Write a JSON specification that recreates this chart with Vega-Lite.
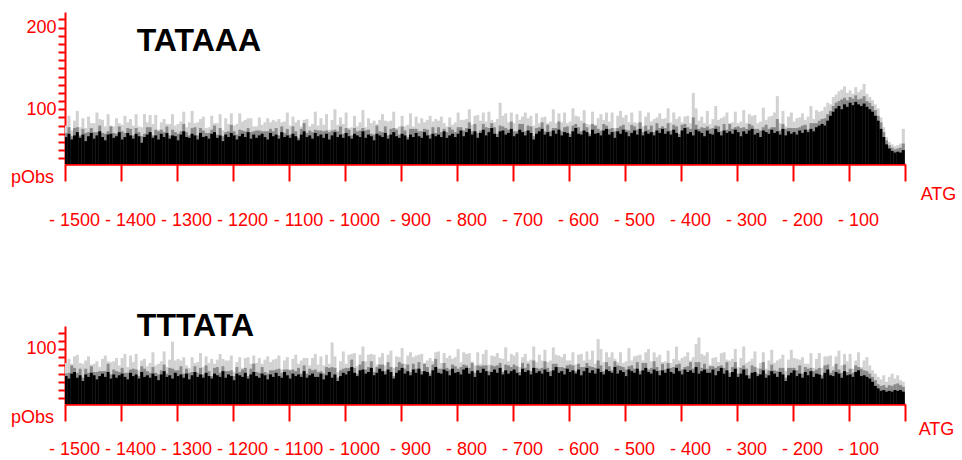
{
"$schema": "https://vega.github.io/schema/vega-lite/v6.json",
"background": "white",
"padding": {"left": 10, "top": 10, "right": 0, "bottom": 0},
"config": {"view": {"stroke": null}, "font": "Liberation Sans"},
"spacing": 81,
"datasets": {
"top": [
{"x":-1498,"k":66,"m":71,"l":80},{"x":-1493,"k":70,"m":78,"l":92},{"x":-1488,"k":63,"m":67,"l":74},{"x":-1483,"k":68,"m":77,"l":86},{"x":-1478,"k":72,"m":78,"l":98},{"x":-1473,"k":65,"m":68,"l":78},{"x":-1468,"k":69,"m":76,"l":89},{"x":-1463,"k":61,"m":71,"l":77},{"x":-1458,"k":67,"m":72,"l":91},{"x":-1453,"k":71,"m":77,"l":83},
{"x":-1448,"k":64,"m":72,"l":83},{"x":-1443,"k":68,"m":72,"l":96},{"x":-1438,"k":73,"m":80,"l":88},{"x":-1433,"k":66,"m":71,"l":87},{"x":-1428,"k":62,"m":70,"l":79},{"x":-1423,"k":69,"m":73,"l":94},{"x":-1418,"k":70,"m":79,"l":80},{"x":-1413,"k":65,"m":71,"l":79},{"x":-1408,"k":67,"m":70,"l":89},{"x":-1403,"k":72,"m":79,"l":83},
{"x":-1398,"k":63,"m":73,"l":81},{"x":-1393,"k":66,"m":71,"l":92},{"x":-1388,"k":71,"m":77,"l":84},{"x":-1383,"k":68,"m":76,"l":88},{"x":-1378,"k":64,"m":68,"l":80},{"x":-1373,"k":70,"m":77,"l":94},{"x":-1368,"k":67,"m":72,"l":79},{"x":-1363,"k":59,"m":67,"l":78},{"x":-1358,"k":66,"m":70,"l":94},{"x":-1353,"k":69,"m":78,"l":84},
{"x":-1348,"k":72,"m":78,"l":93},{"x":-1343,"k":65,"m":68,"l":82},{"x":-1338,"k":68,"m":75,"l":93},{"x":-1333,"k":63,"m":73,"l":75},{"x":-1328,"k":70,"m":75,"l":84},{"x":-1323,"k":66,"m":72,"l":88},{"x":-1318,"k":71,"m":79,"l":82},{"x":-1313,"k":64,"m":68,"l":82},{"x":-1308,"k":68,"m":75,"l":94},{"x":-1303,"k":67,"m":72,"l":80},
{"x":-1298,"k":62,"m":70,"l":82},{"x":-1293,"k":69,"m":73,"l":85},{"x":-1288,"k":73,"m":82,"l":97},{"x":-1283,"k":66,"m":72,"l":78},{"x":-1278,"k":65,"m":68,"l":84},{"x":-1273,"k":70,"m":77,"l":98},{"x":-1268,"k":68,"m":78,"l":83},{"x":-1263,"k":63,"m":68,"l":84},{"x":-1258,"k":71,"m":77,"l":88},{"x":-1253,"k":66,"m":74,"l":91},
{"x":-1248,"k":67,"m":71,"l":77},{"x":-1243,"k":64,"m":71,"l":78},{"x":-1238,"k":70,"m":75,"l":92},{"x":-1233,"k":72,"m":80,"l":83},{"x":-1228,"k":65,"m":69,"l":83},{"x":-1223,"k":68,"m":77,"l":94},{"x":-1218,"k":61,"m":67,"l":74},{"x":-1213,"k":69,"m":72,"l":89},{"x":-1208,"k":66,"m":73,"l":82},{"x":-1203,"k":71,"m":81,"l":95},
{"x":-1198,"k":68,"m":73,"l":80},{"x":-1193,"k":63,"m":69,"l":82},{"x":-1188,"k":67,"m":75,"l":95},{"x":-1183,"k":70,"m":74,"l":85},{"x":-1178,"k":66,"m":73,"l":87},{"x":-1173,"k":72,"m":77,"l":89},{"x":-1168,"k":64,"m":72,"l":89},{"x":-1163,"k":69,"m":73,"l":79},{"x":-1158,"k":65,"m":74,"l":79},{"x":-1153,"k":68,"m":74,"l":90},
{"x":-1148,"k":70,"m":73,"l":81},{"x":-1143,"k":66,"m":73,"l":84},{"x":-1138,"k":63,"m":73,"l":89},{"x":-1133,"k":71,"m":76,"l":84},{"x":-1128,"k":67,"m":73,"l":87},{"x":-1123,"k":69,"m":77,"l":85},{"x":-1118,"k":64,"m":68,"l":88},{"x":-1113,"k":72,"m":79,"l":84},{"x":-1108,"k":66,"m":71,"l":85},{"x":-1103,"k":68,"m":76,"l":96},
{"x":-1098,"k":65,"m":69,"l":80},{"x":-1093,"k":70,"m":79,"l":91},{"x":-1088,"k":67,"m":73,"l":84},{"x":-1083,"k":62,"m":65,"l":87},{"x":-1078,"k":69,"m":76,"l":79},{"x":-1073,"k":73,"m":83,"l":87},{"x":-1068,"k":66,"m":71,"l":88},{"x":-1063,"k":68,"m":74,"l":79},{"x":-1058,"k":64,"m":72,"l":82},{"x":-1053,"k":71,"m":75,"l":97},
{"x":-1048,"k":67,"m":74,"l":80},{"x":-1043,"k":69,"m":74,"l":89},{"x":-1038,"k":65,"m":73,"l":81},{"x":-1033,"k":70,"m":74,"l":94},{"x":-1028,"k":63,"m":72,"l":75},{"x":-1023,"k":68,"m":74,"l":87},{"x":-1018,"k":72,"m":75,"l":100},{"x":-1013,"k":66,"m":73,"l":81},{"x":-1008,"k":69,"m":79,"l":90},{"x":-1003,"k":65,"m":70,"l":82},
{"x":-998,"k":71,"m":77,"l":96},{"x":-993,"k":67,"m":75,"l":77},{"x":-988,"k":64,"m":68,"l":78},{"x":-983,"k":70,"m":77,"l":92},{"x":-978,"k":68,"m":73,"l":79},{"x":-973,"k":66,"m":74,"l":84},{"x":-968,"k":73,"m":77,"l":99},{"x":-963,"k":65,"m":74,"l":78},{"x":-958,"k":69,"m":75,"l":89},{"x":-953,"k":67,"m":70,"l":83},
{"x":-948,"k":62,"m":69,"l":86},{"x":-943,"k":70,"m":80,"l":82},{"x":-938,"k":68,"m":73,"l":87},{"x":-933,"k":66,"m":72,"l":94},{"x":-928,"k":71,"m":79,"l":86},{"x":-923,"k":64,"m":68,"l":85},{"x":-918,"k":69,"m":76,"l":86},{"x":-913,"k":72,"m":77,"l":97},{"x":-908,"k":67,"m":75,"l":77},{"x":-903,"k":65,"m":69,"l":79},
{"x":-898,"k":70,"m":79,"l":92},{"x":-893,"k":68,"m":74,"l":79},{"x":-888,"k":63,"m":66,"l":81},{"x":-883,"k":69,"m":76,"l":95},{"x":-878,"k":66,"m":76,"l":79},{"x":-873,"k":71,"m":76,"l":91},{"x":-868,"k":67,"m":73,"l":83},{"x":-863,"k":65,"m":73,"l":89},{"x":-858,"k":72,"m":76,"l":84},{"x":-853,"k":68,"m":75,"l":87},
{"x":-848,"k":64,"m":69,"l":92},{"x":-843,"k":70,"m":78,"l":85},{"x":-838,"k":67,"m":71,"l":88},{"x":-833,"k":69,"m":78,"l":86},{"x":-828,"k":66,"m":72,"l":91},{"x":-823,"k":73,"m":76,"l":83},{"x":-818,"k":65,"m":72,"l":79},{"x":-813,"k":68,"m":78,"l":90},{"x":-808,"k":70,"m":75,"l":81},{"x":-803,"k":66,"m":72,"l":84},
{"x":-798,"k":70,"m":78,"l":96},{"x":-793,"k":74,"m":78,"l":87},{"x":-788,"k":67,"m":74,"l":87},{"x":-783,"k":72,"m":77,"l":88},{"x":-778,"k":76,"m":84,"l":100},{"x":-773,"k":69,"m":73,"l":81},{"x":-768,"k":73,"m":82,"l":92},{"x":-763,"k":65,"m":71,"l":93},{"x":-758,"k":71,"m":74,"l":86},{"x":-753,"k":75,"m":82,"l":96},
{"x":-748,"k":68,"m":78,"l":85},{"x":-743,"k":72,"m":77,"l":97},{"x":-738,"k":77,"m":83,"l":87},{"x":-733,"k":70,"m":78,"l":84},{"x":-728,"k":66,"m":70,"l":88},{"x":-723,"k":73,"m":80,"l":108},{"x":-718,"k":74,"m":79,"l":92},{"x":-713,"k":69,"m":77,"l":95},{"x":-708,"k":71,"m":75,"l":84},{"x":-703,"k":76,"m":85,"l":96},
{"x":-698,"k":67,"m":73,"l":83},{"x":-693,"k":70,"m":73,"l":94},{"x":-688,"k":75,"m":82,"l":87},{"x":-683,"k":72,"m":82,"l":91},{"x":-678,"k":68,"m":73,"l":96},{"x":-673,"k":74,"m":80,"l":89},{"x":-668,"k":71,"m":79,"l":92},{"x":-663,"k":63,"m":67,"l":80},{"x":-658,"k":70,"m":77,"l":95},{"x":-653,"k":73,"m":78,"l":83},
{"x":-648,"k":76,"m":84,"l":90},{"x":-643,"k":69,"m":73,"l":91},{"x":-638,"k":72,"m":81,"l":83},{"x":-633,"k":67,"m":73,"l":85},{"x":-628,"k":74,"m":77,"l":100},{"x":-623,"k":70,"m":77,"l":83},{"x":-618,"k":75,"m":85,"l":95},{"x":-613,"k":68,"m":73,"l":84},{"x":-608,"k":72,"m":78,"l":96},{"x":-603,"k":71,"m":79,"l":83},
{"x":-598,"k":66,"m":70,"l":85},{"x":-593,"k":73,"m":80,"l":101},{"x":-588,"k":77,"m":82,"l":92},{"x":-583,"k":70,"m":78,"l":91},{"x":-578,"k":69,"m":73,"l":86},{"x":-573,"k":74,"m":83,"l":99},{"x":-568,"k":72,"m":78,"l":82},{"x":-563,"k":67,"m":70,"l":81},{"x":-558,"k":75,"m":82,"l":97},{"x":-553,"k":70,"m":80,"l":81},
{"x":-548,"k":71,"m":76,"l":89},{"x":-543,"k":68,"m":74,"l":94},{"x":-538,"k":74,"m":82,"l":87},{"x":-533,"k":76,"m":80,"l":96},{"x":-528,"k":69,"m":76,"l":85},{"x":-523,"k":72,"m":77,"l":96},{"x":-518,"k":65,"m":73,"l":77},{"x":-513,"k":73,"m":77,"l":92},{"x":-508,"k":70,"m":79,"l":98},{"x":-503,"k":75,"m":81,"l":90},
{"x":-498,"k":72,"m":75,"l":93},{"x":-493,"k":67,"m":74,"l":84},{"x":-488,"k":71,"m":81,"l":96},{"x":-483,"k":74,"m":79,"l":84},{"x":-478,"k":69,"m":75,"l":83},{"x":-473,"k":76,"m":84,"l":98},{"x":-468,"k":68,"m":72,"l":79},{"x":-463,"k":73,"m":80,"l":91},{"x":-458,"k":70,"m":75,"l":96},{"x":-453,"k":72,"m":80,"l":85},
{"x":-448,"k":68,"m":72,"l":88},{"x":-443,"k":74,"m":83,"l":90},{"x":-438,"k":71,"m":77,"l":95},{"x":-433,"k":76,"m":79,"l":88},{"x":-428,"k":70,"m":77,"l":89},{"x":-423,"k":73,"m":83,"l":101},{"x":-418,"k":69,"m":74,"l":84},{"x":-413,"k":75,"m":81,"l":96},{"x":-408,"k":71,"m":79,"l":88},{"x":-403,"k":66,"m":70,"l":91},
{"x":-398,"k":74,"m":81,"l":84},{"x":-393,"k":77,"m":82,"l":91},{"x":-388,"k":70,"m":78,"l":92},{"x":-383,"k":72,"m":76,"l":83},{"x":-378,"k":68,"m":90,"l":120},{"x":-373,"k":75,"m":81,"l":101},{"x":-368,"k":73,"m":76,"l":86},{"x":-363,"k":71,"m":78,"l":91},{"x":-358,"k":67,"m":77,"l":83},{"x":-353,"k":74,"m":79,"l":98},
{"x":-348,"k":70,"m":76,"l":82},{"x":-343,"k":69,"m":77,"l":88},{"x":-338,"k":76,"m":80,"l":104},{"x":-333,"k":72,"m":79,"l":87},{"x":-328,"k":68,"m":73,"l":89},{"x":-323,"k":74,"m":82,"l":91},{"x":-318,"k":71,"m":75,"l":96},{"x":-313,"k":73,"m":82,"l":83},{"x":-308,"k":70,"m":76,"l":84},{"x":-303,"k":75,"m":78,"l":97},
{"x":-298,"k":72,"m":79,"l":83},{"x":-293,"k":67,"m":77,"l":85},{"x":-288,"k":73,"m":78,"l":99},{"x":-283,"k":70,"m":76,"l":83},{"x":-278,"k":74,"m":82,"l":94},{"x":-273,"k":76,"m":80,"l":92},{"x":-268,"k":69,"m":76,"l":93},{"x":-263,"k":71,"m":76,"l":83},{"x":-258,"k":66,"m":74,"l":85},{"x":-253,"k":74,"m":78,"l":102},
{"x":-248,"k":72,"m":81,"l":87},{"x":-243,"k":70,"m":76,"l":91},{"x":-238,"k":75,"m":78,"l":92},{"x":-233,"k":71,"m":78,"l":96},{"x":-228,"k":73,"m":88,"l":116},{"x":-223,"k":69,"m":74,"l":83},{"x":-218,"k":76,"m":82,"l":98},{"x":-213,"k":68,"m":76,"l":79},{"x":-208,"k":73,"m":77,"l":91},{"x":-203,"k":70,"m":77,"l":96},
{"x":-198,"k":72,"m":77,"l":85},{"x":-193,"k":69,"m":77,"l":89},{"x":-188,"k":74,"m":78,"l":90},{"x":-183,"k":71,"m":80,"l":95},{"x":-178,"k":75,"m":81,"l":87},{"x":-173,"k":72,"m":75,"l":91},{"x":-168,"k":76,"m":83,"l":104},{"x":-163,"k":73,"m":83,"l":88},{"x":-158,"k":78,"m":83,"l":99},{"x":-153,"k":80,"m":86,"l":97},
{"x":-148,"k":82,"m":88,"l":98},{"x":-143,"k":80,"m":89,"l":103},{"x":-138,"k":86,"m":94,"l":108},{"x":-133,"k":92,"m":98,"l":106},{"x":-128,"k":97,"m":104,"l":115},{"x":-123,"k":101,"m":108,"l":118},{"x":-118,"k":104,"m":110,"l":122},{"x":-113,"k":100,"m":112,"l":124},{"x":-108,"k":106,"m":114,"l":128},{"x":-103,"k":103,"m":111,"l":120},
{"x":-98,"k":108,"m":115,"l":123},{"x":-93,"k":105,"m":113,"l":119},{"x":-88,"k":109,"m":117,"l":127},{"x":-83,"k":106,"m":112,"l":121},{"x":-78,"k":104,"m":113,"l":124},{"x":-73,"k":107,"m":116,"l":131},{"x":-68,"k":103,"m":110,"l":119},{"x":-63,"k":100,"m":108,"l":115},{"x":-58,"k":97,"m":104,"l":111},{"x":-53,"k":92,"m":99,"l":106},
{"x":-48,"k":86,"m":92,"l":101},{"x":-43,"k":76,"m":84,"l":90},{"x":-38,"k":66,"m":72,"l":78},{"x":-33,"k":57,"m":62,"l":66},{"x":-28,"k":52,"m":56,"l":60},{"x":-23,"k":49,"m":53,"l":57},{"x":-18,"k":47,"m":51,"l":55},{"x":-13,"k":48,"m":52,"l":56},{"x":-8,"k":47,"m":53,"l":58},{"x":-3,"k":50,"m":58,"l":76}
],
"bot": [
{"x":-1498,"k":67,"m":70,"l":83},{"x":-1493,"k":64,"m":71,"l":88},{"x":-1488,"k":70,"m":80,"l":82},{"x":-1483,"k":72,"m":77,"l":91},{"x":-1478,"k":65,"m":71,"l":93},{"x":-1473,"k":68,"m":76,"l":83},{"x":-1468,"k":61,"m":65,"l":82},{"x":-1463,"k":69,"m":76,"l":86},{"x":-1458,"k":66,"m":71,"l":91},{"x":-1453,"k":71,"m":79,"l":81},
{"x":-1448,"k":68,"m":72,"l":82},{"x":-1443,"k":63,"m":72,"l":85},{"x":-1438,"k":67,"m":73,"l":78},{"x":-1433,"k":70,"m":73,"l":88},{"x":-1428,"k":66,"m":73,"l":92},{"x":-1423,"k":72,"m":82,"l":85},{"x":-1418,"k":64,"m":69,"l":84},{"x":-1413,"k":69,"m":75,"l":85},{"x":-1408,"k":65,"m":73,"l":89},{"x":-1403,"k":68,"m":72,"l":80},
{"x":-1398,"k":70,"m":77,"l":89},{"x":-1393,"k":66,"m":71,"l":94},{"x":-1388,"k":63,"m":71,"l":78},{"x":-1383,"k":71,"m":75,"l":92},{"x":-1378,"k":67,"m":76,"l":84},{"x":-1373,"k":69,"m":75,"l":94},{"x":-1368,"k":64,"m":67,"l":74},{"x":-1363,"k":72,"m":79,"l":86},{"x":-1358,"k":66,"m":76,"l":88},{"x":-1353,"k":68,"m":73,"l":79},
{"x":-1348,"k":65,"m":71,"l":83},{"x":-1343,"k":70,"m":78,"l":96},{"x":-1338,"k":67,"m":71,"l":80},{"x":-1333,"k":62,"m":69,"l":82},{"x":-1328,"k":69,"m":74,"l":85},{"x":-1323,"k":73,"m":81,"l":97},{"x":-1318,"k":66,"m":70,"l":78},{"x":-1313,"k":68,"m":77,"l":87},{"x":-1308,"k":64,"m":76,"l":109},{"x":-1303,"k":71,"m":74,"l":86},
{"x":-1298,"k":67,"m":74,"l":88},{"x":-1293,"k":69,"m":79,"l":86},{"x":-1288,"k":65,"m":70,"l":90},{"x":-1283,"k":70,"m":76,"l":80},{"x":-1278,"k":63,"m":71,"l":77},{"x":-1273,"k":68,"m":72,"l":90},{"x":-1268,"k":72,"m":79,"l":83},{"x":-1263,"k":66,"m":71,"l":84},{"x":-1258,"k":69,"m":77,"l":95},{"x":-1253,"k":65,"m":69,"l":78},
{"x":-1248,"k":71,"m":80,"l":91},{"x":-1243,"k":67,"m":73,"l":83},{"x":-1238,"k":64,"m":67,"l":88},{"x":-1233,"k":70,"m":77,"l":82},{"x":-1228,"k":68,"m":78,"l":87},{"x":-1223,"k":66,"m":71,"l":94},{"x":-1218,"k":73,"m":79,"l":88},{"x":-1213,"k":65,"m":73,"l":86},{"x":-1208,"k":69,"m":73,"l":86},{"x":-1203,"k":67,"m":74,"l":92},
{"x":-1198,"k":62,"m":67,"l":72},{"x":-1193,"k":70,"m":78,"l":84},{"x":-1188,"k":68,"m":72,"l":90},{"x":-1183,"k":66,"m":75,"l":77},{"x":-1178,"k":71,"m":77,"l":89},{"x":-1173,"k":64,"m":67,"l":90},{"x":-1168,"k":69,"m":76,"l":82},{"x":-1163,"k":72,"m":82,"l":92},{"x":-1158,"k":67,"m":72,"l":83},{"x":-1153,"k":65,"m":71,"l":89},
{"x":-1148,"k":70,"m":78,"l":82},{"x":-1143,"k":68,"m":72,"l":87},{"x":-1138,"k":63,"m":70,"l":91},{"x":-1133,"k":69,"m":74,"l":84},{"x":-1128,"k":66,"m":74,"l":87},{"x":-1123,"k":71,"m":75,"l":88},{"x":-1118,"k":67,"m":76,"l":92},{"x":-1113,"k":65,"m":71,"l":75},{"x":-1108,"k":72,"m":75,"l":86},{"x":-1103,"k":68,"m":75,"l":90},
{"x":-1098,"k":64,"m":74,"l":75},{"x":-1093,"k":70,"m":75,"l":88},{"x":-1088,"k":67,"m":73,"l":93},{"x":-1083,"k":69,"m":77,"l":82},{"x":-1078,"k":66,"m":70,"l":86},{"x":-1073,"k":73,"m":80,"l":89},{"x":-1068,"k":65,"m":70,"l":89},{"x":-1063,"k":68,"m":76,"l":80},{"x":-1058,"k":70,"m":74,"l":89},{"x":-1053,"k":66,"m":75,"l":94},
{"x":-1048,"k":66,"m":72,"l":81},{"x":-1043,"k":70,"m":73,"l":91},{"x":-1038,"k":63,"m":70,"l":80},{"x":-1033,"k":68,"m":78,"l":93},{"x":-1028,"k":72,"m":77,"l":82},{"x":-1023,"k":65,"m":78,"l":108},{"x":-1018,"k":69,"m":77,"l":91},{"x":-1013,"k":61,"m":65,"l":72},{"x":-1008,"k":67,"m":74,"l":85},{"x":-1003,"k":71,"m":76,"l":97},
{"x":-998,"k":69,"m":77,"l":82},{"x":-993,"k":73,"m":77,"l":93},{"x":-988,"k":78,"m":87,"l":94},{"x":-983,"k":71,"m":77,"l":95},{"x":-978,"k":67,"m":70,"l":79},{"x":-973,"k":74,"m":81,"l":93},{"x":-968,"k":75,"m":85,"l":103},{"x":-963,"k":70,"m":75,"l":85},{"x":-958,"k":72,"m":78,"l":93},{"x":-953,"k":77,"m":85,"l":94},
{"x":-948,"k":68,"m":72,"l":93},{"x":-943,"k":71,"m":78,"l":81},{"x":-938,"k":76,"m":81,"l":90},{"x":-933,"k":73,"m":81,"l":95},{"x":-928,"k":69,"m":73,"l":80},{"x":-923,"k":75,"m":84,"l":93},{"x":-918,"k":72,"m":78,"l":98},{"x":-913,"k":64,"m":67,"l":77},{"x":-908,"k":71,"m":78,"l":91},{"x":-903,"k":74,"m":84,"l":90},
{"x":-898,"k":77,"m":82,"l":101},{"x":-893,"k":70,"m":76,"l":82},{"x":-888,"k":73,"m":81,"l":92},{"x":-883,"k":68,"m":72,"l":96},{"x":-878,"k":75,"m":82,"l":90},{"x":-873,"k":71,"m":76,"l":92},{"x":-868,"k":76,"m":84,"l":93},{"x":-863,"k":69,"m":73,"l":94},{"x":-858,"k":73,"m":82,"l":83},{"x":-853,"k":72,"m":78,"l":86},
{"x":-848,"k":67,"m":70,"l":89},{"x":-843,"k":74,"m":81,"l":85},{"x":-838,"k":78,"m":88,"l":96},{"x":-833,"k":71,"m":76,"l":97},{"x":-828,"k":70,"m":76,"l":83},{"x":-823,"k":75,"m":83,"l":95},{"x":-818,"k":73,"m":77,"l":89},{"x":-813,"k":68,"m":75,"l":92},{"x":-808,"k":76,"m":81,"l":88},{"x":-803,"k":71,"m":79,"l":90},
{"x":-798,"k":72,"m":76,"l":100},{"x":-793,"k":69,"m":78,"l":84},{"x":-788,"k":75,"m":81,"l":96},{"x":-783,"k":77,"m":80,"l":94},{"x":-778,"k":70,"m":77,"l":95},{"x":-773,"k":73,"m":83,"l":85},{"x":-768,"k":66,"m":71,"l":80},{"x":-763,"k":74,"m":80,"l":96},{"x":-758,"k":71,"m":79,"l":82},{"x":-753,"k":76,"m":80,"l":94},
{"x":-748,"k":73,"m":80,"l":99},{"x":-743,"k":68,"m":73,"l":81},{"x":-738,"k":72,"m":80,"l":92},{"x":-733,"k":75,"m":79,"l":91},{"x":-728,"k":71,"m":80,"l":95},{"x":-723,"k":77,"m":83,"l":89},{"x":-718,"k":69,"m":72,"l":88},{"x":-713,"k":74,"m":81,"l":102},{"x":-708,"k":70,"m":80,"l":85},{"x":-703,"k":73,"m":78,"l":94},
{"x":-698,"k":75,"m":81,"l":92},{"x":-693,"k":71,"m":79,"l":96},{"x":-688,"k":68,"m":72,"l":78},{"x":-683,"k":76,"m":83,"l":90},{"x":-678,"k":72,"m":77,"l":94},{"x":-673,"k":74,"m":82,"l":85},{"x":-668,"k":69,"m":73,"l":87},{"x":-663,"k":77,"m":86,"l":103},{"x":-658,"k":71,"m":77,"l":84},{"x":-653,"k":73,"m":76,"l":93},
{"x":-648,"k":70,"m":77,"l":86},{"x":-643,"k":75,"m":85,"l":99},{"x":-638,"k":72,"m":77,"l":84},{"x":-633,"k":67,"m":73,"l":86},{"x":-628,"k":74,"m":82,"l":102},{"x":-623,"k":78,"m":82,"l":93},{"x":-618,"k":71,"m":78,"l":92},{"x":-613,"k":73,"m":78,"l":90},{"x":-608,"k":69,"m":77,"l":94},{"x":-603,"k":76,"m":80,"l":86},
{"x":-598,"k":72,"m":81,"l":86},{"x":-593,"k":74,"m":80,"l":96},{"x":-588,"k":70,"m":73,"l":81},{"x":-583,"k":75,"m":82,"l":93},{"x":-578,"k":68,"m":78,"l":94},{"x":-573,"k":73,"m":78,"l":86},{"x":-568,"k":77,"m":83,"l":97},{"x":-563,"k":71,"m":79,"l":87},{"x":-558,"k":74,"m":78,"l":98},{"x":-553,"k":70,"m":77,"l":82},
{"x":-548,"k":76,"m":86,"l":112},{"x":-543,"k":72,"m":80,"l":100},{"x":-538,"k":69,"m":73,"l":84},{"x":-533,"k":75,"m":84,"l":96},{"x":-528,"k":73,"m":79,"l":90},{"x":-523,"k":71,"m":74,"l":96},{"x":-518,"k":78,"m":85,"l":88},{"x":-513,"k":70,"m":80,"l":84},{"x":-508,"k":74,"m":79,"l":96},{"x":-503,"k":72,"m":78,"l":83},
{"x":-498,"k":67,"m":75,"l":85},{"x":-493,"k":75,"m":79,"l":101},{"x":-488,"k":73,"m":80,"l":86},{"x":-483,"k":71,"m":76,"l":91},{"x":-478,"k":76,"m":84,"l":92},{"x":-473,"k":69,"m":73,"l":93},{"x":-468,"k":74,"m":83,"l":86},{"x":-463,"k":77,"m":83,"l":96},{"x":-458,"k":72,"m":75,"l":100},{"x":-453,"k":70,"m":77,"l":85},
{"x":-448,"k":75,"m":85,"l":96},{"x":-443,"k":73,"m":78,"l":90},{"x":-438,"k":68,"m":74,"l":93},{"x":-433,"k":74,"m":82,"l":84},{"x":-428,"k":71,"m":75,"l":85},{"x":-423,"k":76,"m":83,"l":98},{"x":-418,"k":72,"m":77,"l":83},{"x":-413,"k":70,"m":78,"l":88},{"x":-408,"k":77,"m":81,"l":103},{"x":-403,"k":73,"m":82,"l":86},
{"x":-398,"k":69,"m":75,"l":89},{"x":-393,"k":75,"m":78,"l":91},{"x":-388,"k":72,"m":79,"l":96},{"x":-383,"k":74,"m":84,"l":86},{"x":-378,"k":71,"m":76,"l":90},{"x":-373,"k":78,"m":84,"l":106},{"x":-368,"k":70,"m":84,"l":114},{"x":-363,"k":73,"m":77,"l":94},{"x":-358,"k":75,"m":82,"l":92},{"x":-353,"k":71,"m":76,"l":96},
{"x":-348,"k":71,"m":79,"l":81},{"x":-343,"k":75,"m":79,"l":89},{"x":-338,"k":68,"m":77,"l":90},{"x":-333,"k":73,"m":79,"l":84},{"x":-328,"k":77,"m":80,"l":95},{"x":-323,"k":70,"m":77,"l":96},{"x":-318,"k":74,"m":84,"l":87},{"x":-313,"k":66,"m":71,"l":86},{"x":-308,"k":72,"m":78,"l":88},{"x":-303,"k":76,"m":84,"l":100},
{"x":-298,"k":66,"m":70,"l":78},{"x":-293,"k":70,"m":77,"l":89},{"x":-288,"k":75,"m":80,"l":103},{"x":-283,"k":68,"m":76,"l":83},{"x":-278,"k":64,"m":68,"l":85},{"x":-273,"k":71,"m":80,"l":88},{"x":-268,"k":72,"m":78,"l":97},{"x":-263,"k":67,"m":70,"l":77},{"x":-258,"k":69,"m":76,"l":83},{"x":-253,"k":74,"m":84,"l":96},
{"x":-248,"k":65,"m":70,"l":76},{"x":-243,"k":68,"m":74,"l":86},{"x":-238,"k":73,"m":81,"l":99},{"x":-233,"k":70,"m":74,"l":83},{"x":-228,"k":66,"m":73,"l":86},{"x":-223,"k":72,"m":77,"l":88},{"x":-218,"k":69,"m":77,"l":93},{"x":-213,"k":61,"m":65,"l":73},{"x":-208,"k":68,"m":77,"l":87},{"x":-203,"k":71,"m":77,"l":99},
{"x":-198,"k":74,"m":77,"l":89},{"x":-193,"k":67,"m":74,"l":88},{"x":-188,"k":70,"m":80,"l":87},{"x":-183,"k":65,"m":70,"l":90},{"x":-178,"k":72,"m":78,"l":82},{"x":-173,"k":68,"m":76,"l":82},{"x":-168,"k":73,"m":77,"l":95},{"x":-163,"k":66,"m":73,"l":77},{"x":-158,"k":70,"m":75,"l":88},{"x":-153,"k":69,"m":77,"l":95},
{"x":-148,"k":64,"m":68,"l":77},{"x":-143,"k":71,"m":80,"l":91},{"x":-138,"k":75,"m":81,"l":91},{"x":-133,"k":68,"m":71,"l":92},{"x":-128,"k":67,"m":74,"l":79},{"x":-123,"k":72,"m":82,"l":91},{"x":-118,"k":70,"m":75,"l":98},{"x":-113,"k":65,"m":71,"l":80},{"x":-108,"k":73,"m":81,"l":94},{"x":-103,"k":68,"m":72,"l":85},
{"x":-98,"k":69,"m":76,"l":94},{"x":-93,"k":66,"m":71,"l":76},{"x":-88,"k":72,"m":80,"l":86},{"x":-83,"k":74,"m":78,"l":96},{"x":-78,"k":67,"m":76,"l":78},{"x":-73,"k":68,"m":74,"l":86},{"x":-68,"k":66,"m":73,"l":90},{"x":-63,"k":64,"m":70,"l":80},{"x":-58,"k":60,"m":66,"l":74},{"x":-53,"k":55,"m":62,"l":70},
{"x":-48,"k":52,"m":57,"l":66},{"x":-43,"k":49,"m":55,"l":63},{"x":-38,"k":50,"m":56,"l":68},{"x":-33,"k":48,"m":53,"l":60},{"x":-28,"k":49,"m":56,"l":66},{"x":-23,"k":48,"m":55,"l":70},{"x":-18,"k":50,"m":57,"l":64},{"x":-13,"k":49,"m":58,"l":68},{"x":-8,"k":50,"m":56,"l":62},{"x":-3,"k":48,"m":54,"l":60}
]
},
"vconcat": [
{
"width": 840, "height": 152,
"data": {"name": "top"},
"layer": [
{
"mark": {"type": "bar", "size": 3, "clip": true, "color": "#d2d2d2"},
"encoding": {
"x": {"field": "x", "type": "quantitative", "scale": {"domain": [-1500, 0], "nice": false, "zero": false, "padding": 0},
"axis": {"values": [-1500,-1400,-1300,-1200,-1100,-1000,-900,-800,-700,-600,-500,-400,-300,-200,-100,0], "tickCount": 100, "labelExpr": "datum.value < 0 ? '- ' + (-datum.value) : ''", "grid": false, "domainColor": "#ff0000", "domainWidth": 2.5, "tickColor": "#ff0000", "tickWidth": 2, "tickSize": 17, "labelColor": "#ff0000", "labelFontSize": 18, "labelFont": "Liberation Sans", "labelPadding": 30, "labelOffset": 9, "labelOverlap": false, "labelFlush": false, "labelBound": false, "labelBaseline": "top", "title": "ATG", "titleColor": "#ff0000", "titleFontSize": 18, "titleFontWeight": "normal", "titleFont": "Liberation Sans", "titleX": 873, "titleY": 30, "titleAlign": "center", "titleBaseline": "middle", "titleAnchor": null}},
"y": {"field": "l", "type": "quantitative", "scale": {"domain": [33, 219], "nice": false, "zero": false},
"axis": {"values": [40,50,60,70,80,90,100,110,120,130,140,150,160,170,180,190,200,210], "tickCount": 100, "labelExpr": "datum.value % 100 === 0 ? datum.value : ''", "grid": false, "domainColor": "#ff0000", "domainWidth": 2, "tickColor": "#ff0000", "tickWidth": 2, "tickSize": 7, "labelColor": "#ff0000", "labelFontSize": 18, "labelFont": "Liberation Sans", "labelPadding": 2, "labelOverlap": false, "labelBound": false, "title": "pObs", "titleColor": "#ff0000", "titleFontSize": 18, "titleFontWeight": "normal", "titleFont": "Liberation Sans", "titleAngle": 0, "titleX": -33, "titleY": 165, "titleAlign": "center", "titleBaseline": "middle", "titleAnchor": null}},
"y2": {"datum": 33}
}
},
{
"mark": {"type": "bar", "size": 3, "clip": true, "color": "#8a8a8a"},
"encoding": {
"x": {"field": "x", "type": "quantitative", "scale": {"domain": [-1500, 0], "nice": false, "zero": false, "padding": 0}},
"y": {"field": "m", "type": "quantitative", "scale": {"domain": [33, 219], "nice": false, "zero": false}},
"y2": {"datum": 33}
}
},
{
"mark": {"type": "bar", "size": 3, "clip": true, "color": "#000000"},
"encoding": {
"x": {"field": "x", "type": "quantitative", "scale": {"domain": [-1500, 0], "nice": false, "zero": false, "padding": 0}},
"y": {"field": "k", "type": "quantitative", "scale": {"domain": [33, 219], "nice": false, "zero": false}},
"y2": {"datum": 33}
}
},
{
"data": {"values": [{"t": "TATAAA", "px": -1261, "py": 183}]},
"mark": {"type": "text", "fontSize": 32, "fontWeight": "bold", "font": "Liberation Sans", "color": "#000000", "align": "center", "baseline": "middle"},
"encoding": {"x": {"field": "px", "type": "quantitative"}, "y": {"field": "py", "type": "quantitative"}, "text": {"field": "t"}}
}
]
},
{
"width": 840, "height": 78,
"data": {"name": "bot"},
"layer": [
{
"mark": {"type": "bar", "size": 3, "clip": true, "color": "#d2d2d2"},
"encoding": {
"x": {"field": "x", "type": "quantitative", "scale": {"domain": [-1500, 0], "nice": false, "zero": false, "padding": 0},
"axis": {"values": [-1500,-1400,-1300,-1200,-1100,-1000,-900,-800,-700,-600,-500,-400,-300,-200,-100,0], "tickCount": 100, "labelExpr": "datum.value < 0 ? '- ' + (-datum.value) : ''", "grid": false, "domainColor": "#ff0000", "domainWidth": 2.5, "tickColor": "#ff0000", "tickWidth": 2, "tickSize": 17, "labelColor": "#ff0000", "labelFontSize": 18, "labelFont": "Liberation Sans", "labelPadding": 19, "labelOffset": 9, "labelOverlap": false, "labelFlush": false, "labelBound": false, "labelBaseline": "top", "title": "ATG", "titleColor": "#ff0000", "titleFontSize": 18, "titleFontWeight": "normal", "titleFont": "Liberation Sans", "titleX": 871, "titleY": 25, "titleAlign": "center", "titleBaseline": "middle", "titleAnchor": null}},
"y": {"field": "l", "type": "quantitative", "scale": {"domain": [33, 128], "nice": false, "zero": false},
"axis": {"values": [40,50,60,70,80,90,100,110,120], "tickCount": 100, "labelExpr": "datum.value % 100 === 0 ? datum.value : ''", "grid": false, "domainColor": "#ff0000", "domainWidth": 2, "tickColor": "#ff0000", "tickWidth": 2, "tickSize": 7, "labelColor": "#ff0000", "labelFontSize": 18, "labelFont": "Liberation Sans", "labelPadding": 2, "labelOverlap": false, "labelBound": false, "title": "pObs", "titleColor": "#ff0000", "titleFontSize": 18, "titleFontWeight": "normal", "titleFont": "Liberation Sans", "titleAngle": 0, "titleX": -33, "titleY": 91, "titleAlign": "center", "titleBaseline": "middle", "titleAnchor": null}},
"y2": {"datum": 33}
}
},
{
"mark": {"type": "bar", "size": 3, "clip": true, "color": "#8a8a8a"},
"encoding": {
"x": {"field": "x", "type": "quantitative", "scale": {"domain": [-1500, 0], "nice": false, "zero": false, "padding": 0}},
"y": {"field": "m", "type": "quantitative", "scale": {"domain": [33, 128], "nice": false, "zero": false}},
"y2": {"datum": 33}
}
},
{
"mark": {"type": "bar", "size": 3, "clip": true, "color": "#000000"},
"encoding": {
"x": {"field": "x", "type": "quantitative", "scale": {"domain": [-1500, 0], "nice": false, "zero": false, "padding": 0}},
"y": {"field": "k", "type": "quantitative", "scale": {"domain": [33, 128], "nice": false, "zero": false}},
"y2": {"datum": 33}
}
},
{
"data": {"values": [{"t": "TTTATA", "px": -1267, "py": 128}]},
"mark": {"type": "text", "fontSize": 32, "fontWeight": "bold", "font": "Liberation Sans", "color": "#000000", "align": "center", "baseline": "middle"},
"encoding": {"x": {"field": "px", "type": "quantitative"}, "y": {"field": "py", "type": "quantitative"}, "text": {"field": "t"}}
}
]
}
]
}
